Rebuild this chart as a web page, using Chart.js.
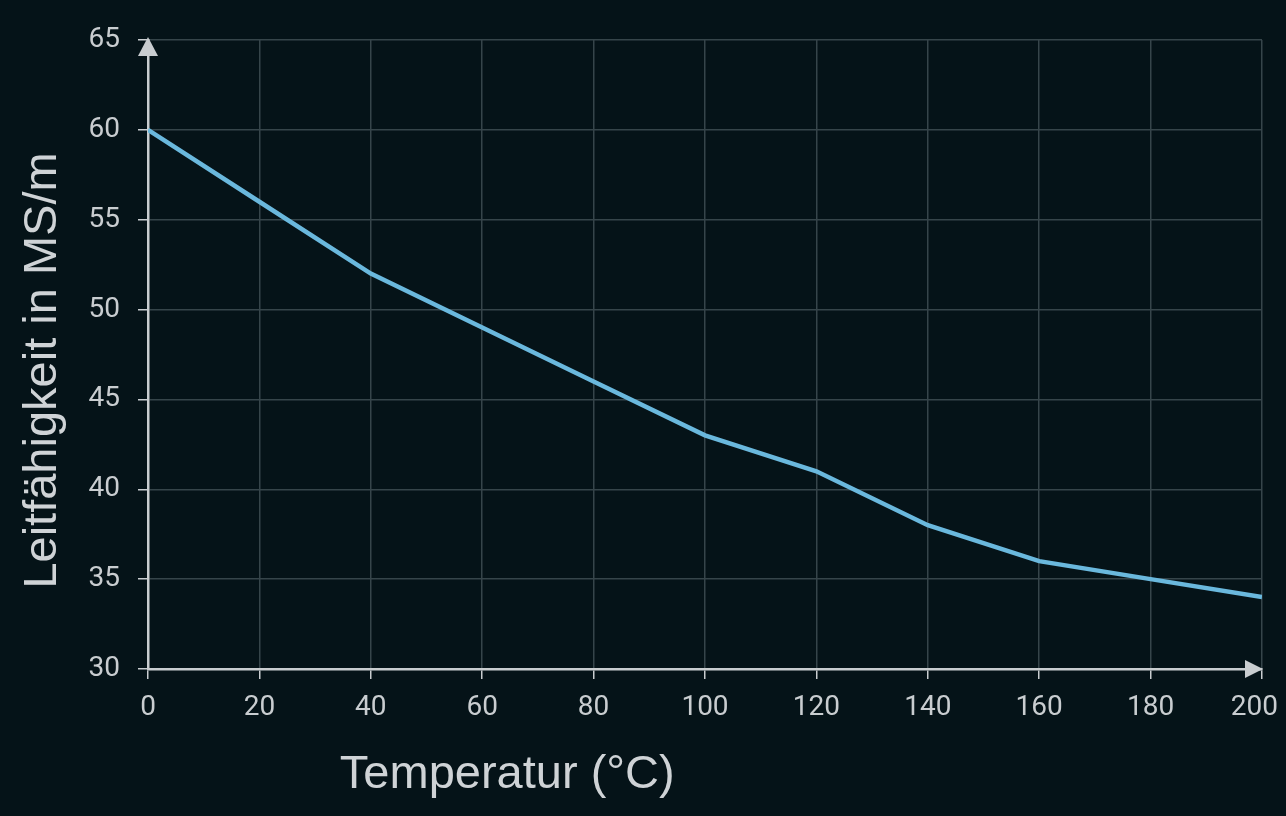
<!DOCTYPE html>
<html>
<head>
<meta charset="utf-8">
<script src="https://cdn.jsdelivr.net/npm/chart.js@4"></script>
<style>
html,body{margin:0;padding:0;background:#051318;}
#wrap{width:1286px;height:816px;position:relative;}
</style>
</head>
<body>
<div id="wrap"><canvas id="c" width="1286" height="816"></canvas></div>
<script>
const temperatures = [0, 20, 40, 60, 80, 100, 120, 140, 160, 180, 200];
const conductivity = [60, 56, 52, 49, 46, 43, 41, 38, 36, 35, 34];
const xTitle = 'Temperatur (°C)';
const yTitle = 'Leitfähigkeit in MS/m';

const axisColor = '#c9cdd0';
const gridColor = '#36454a';
const labelColor = '#c9cdd0';

const decorPlugin = {
  id: 'decor',
  beforeDraw(chart) {
    // keep the last x label inside the canvas
    const xs = chart.scales.x;
    const items = xs.getLabelItems(chart.chartArea);
    if (items && items.length) {
      const last = items[items.length - 1];
      last.options.textAlign = 'right';
      last.options.translation[0] = chart.width - 8;
    }
  },
  afterDraw(chart) {
    const ctx = chart.ctx;
    const a = chart.chartArea;
    ctx.save();
    ctx.fillStyle = axisColor;
    // y arrow
    ctx.beginPath();
    ctx.moveTo(a.left, a.top - 3);
    ctx.lineTo(a.left - 10, a.top + 16);
    ctx.lineTo(a.left + 10, a.top + 16);
    ctx.closePath();
    ctx.fill();
    // x arrow
    ctx.beginPath();
    ctx.moveTo(a.right + 1, a.bottom);
    ctx.lineTo(a.right - 17, a.bottom - 9);
    ctx.lineTo(a.right - 17, a.bottom + 9);
    ctx.closePath();
    ctx.fill();
    // titles
    ctx.fillStyle = '#cfd3d6';
    ctx.font = '47px "Liberation Sans", Arial, sans-serif';
    ctx.textAlign = 'center';
    ctx.textBaseline = 'middle';
    const xs = chart.scales.x;
    ctx.fillText(xTitle, xs.getPixelForValue(64.5), a.bottom + 106);
    ctx.translate(43, (a.top + a.bottom) / 2 + 16);
    ctx.rotate(-Math.PI / 2);
    ctx.fillText(yTitle, 0, 0);
    ctx.restore();
  }
};

new Chart(document.getElementById('c'), {
  type: 'line',
  data: {
    labels: temperatures,
    datasets: [{
      data: temperatures.map((t, i) => ({x: t, y: conductivity[i]})),
      borderColor: '#6ab8dd',
      borderWidth: 4.5,
      pointRadius: 0,
      tension: 0,
      fill: false
    }]
  },
  options: {
    responsive: false,
    animation: false,
    layout: {padding: {left: 0, right: 0, top: 40, bottom: 0}},
    plugins: {legend: {display: false}, tooltip: {enabled: false}},
    scales: {
      x: {
        type: 'linear',
        min: 0, max: 200,
        afterFit(s) { s.height = 147; s.paddingRight = 24; s.paddingLeft = 0; },
        ticks: {stepSize: 20, color: labelColor, padding: 12,
          font: {family: 'Roboto', size: 28}},
        grid: {color: gridColor, lineWidth: 1.5, tickColor: axisColor, tickLength: 10},
        border: {color: axisColor, width: 2.5}
      },
      y: {
        min: 30, max: 65,
        afterFit(s) { s.width = 148; s.paddingTop = 0; s.paddingBottom = 0; },
        ticks: {stepSize: 5, color: labelColor, padding: 18,
          font: {family: 'Roboto', size: 28}},
        grid: {color: gridColor, lineWidth: 1.5, tickColor: axisColor, tickLength: 10},
        border: {color: axisColor, width: 2.5}
      }
    }
  },
  plugins: [decorPlugin]
});
</script>
</body>
</html>
